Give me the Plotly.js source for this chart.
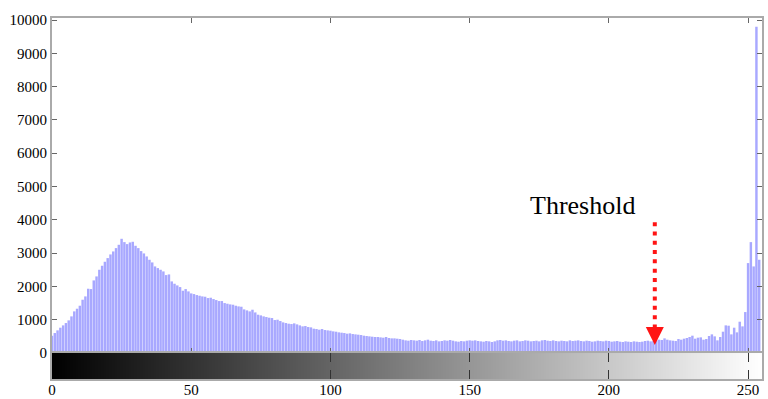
<!DOCTYPE html>
<html>
<head>
<meta charset="utf-8">
<script src="https://cdn.plot.ly/plotly-3.0.1.min.js"></script>
<style>html,body{margin:0;padding:0;background:#fff;}#chart{width:768px;height:399px;}</style>
</head>
<body>
<div id="chart"></div>
<script>
// Gray levels (categories)
const grayLevels = Array.from({length: 256}, (_, i) => i);

// Pixel counts per gray level
const counts = [
  520, 600, 680, 760, 830, 900, 980, 1100, 1250, 1330,
  1420, 1600, 1700, 1930, 1920, 2180, 2300, 2500, 2620, 2740,
  2850, 2960, 3050, 3150, 3250, 3430, 3330, 3270, 3320, 3340,
  3220, 3150, 3060, 2990, 2900, 2800, 2720, 2600, 2550, 2500,
  2450, 2340, 2360, 2150, 2080, 2030, 1980, 1870, 1920, 1850,
  1790, 1770, 1740, 1720, 1700, 1690, 1650, 1660, 1620, 1590,
  1560, 1560, 1500, 1480, 1460, 1450, 1420, 1400, 1390, 1310,
  1280, 1250, 1300, 1220, 1150, 1130, 1100, 1080, 1060, 1050,
  990, 1000, 960, 920, 900, 880, 870, 890, 860, 830,
  800, 810, 780, 770, 730, 720, 700, 720, 690, 680,
  670, 650, 640, 620, 610, 600, 580, 590, 570, 560,
  550, 540, 520, 510, 500, 490, 480, 480, 470, 460,
  480, 450, 440, 440, 430, 420, 400, 380, 370, 390,
  380, 370, 390, 360, 380, 400, 370, 360, 380, 350,
  360, 380, 370, 390, 370, 350, 340, 360, 350, 370,
  380, 370, 380, 360, 350, 340, 360, 350, 330, 350,
  380, 390, 370, 380, 360, 350, 370, 380, 350, 360,
  380, 370, 350, 360, 370, 350, 380, 390, 370, 360,
  380, 360, 350, 370, 360, 350, 380, 360, 370, 380,
  360, 350, 370, 360, 340, 350, 370, 360, 350, 370,
  360, 340, 350, 360, 340, 330, 350, 340, 330, 350,
  340, 330, 340, 360, 370, 350, 360, 380, 400, 390,
  440, 400, 380, 370, 360, 420, 400, 430, 450, 480,
  520, 430, 460, 470, 400, 420, 510, 560, 500, 380,
  480, 640, 830, 820, 560, 760, 620, 940, 800, 1230,
  2700, 3330, 2600, 9800, 2800, 0
];

const xTicks = [0, 50, 100, 150, 200, 250];
const yTicks = [0, 1000, 2000, 3000, 4000, 5000, 6000, 7000, 8000, 9000, 10000];

const thresholdLevel = 216.5;
const thresholdLabel = 'Threshold';

const serif = 'Liberation Serif, Times New Roman, serif';

const traces = [
  {
    type: 'bar', x: grayLevels, y: counts,
    xaxis: 'x', yaxis: 'y',
    marker: {color: 'rgb(168,168,255)', line: {width: 0}},
    hoverinfo: 'skip'
  },
  {
    type: 'heatmap', x: grayLevels, y: [0, 1], z: [grayLevels],
    xaxis: 'x2', yaxis: 'y2',
    colorscale: [[0, 'rgb(0,0,0)'], [1, 'rgb(255,255,255)']],
    zmin: 0, zmax: 255, showscale: false, hoverinfo: 'skip'
  }
];

const layout = {
  width: 768, height: 399,
  margin: {l: 52, r: 6, t: 18, b: 20},
  paper_bgcolor: '#fff', plot_bgcolor: '#fff',
  showlegend: false,
  bargap: 0.12,
  font: {family: serif, size: 15, color: '#000'},
  xaxis: {
    domain: [0, 1], range: [0, 255], anchor: 'y',
    tickvals: xTicks, showticklabels: false,
    ticks: 'inside', ticklen: 5, tickcolor: '#666', tickwidth: 1,
    showline: true, linecolor: '#aaa', linewidth: 2, mirror: 'ticks',
    showgrid: false, zeroline: false
  },
  yaxis: {
    domain: [0.072, 1], range: [0, 10060], anchor: 'x',
    tickvals: yTicks, ticktext: yTicks.map(String),
    ticks: 'inside', ticklen: 5, tickcolor: '#666', tickwidth: 1,
    showline: true, linecolor: '#aaa', linewidth: 2, mirror: 'ticks',
    showgrid: false, zeroline: false,
    tickfont: {family: serif, size: 15, color: '#000'}
  },
  xaxis2: {
    domain: [0, 1], range: [0, 255], anchor: 'y2',
    tickvals: xTicks, ticktext: xTicks.map(String),
    ticks: 'inside', ticklen: 9, tickcolor: '#333', tickwidth: 1,
    ticklabelstandoff: -4,
    showline: true, linecolor: '#aaa', linewidth: 2, mirror: 'ticks',
    showgrid: false, zeroline: false,
    tickfont: {family: serif, size: 15, color: '#000'}
  },
  yaxis2: {
    domain: [0, 0.072], range: [0, 1], anchor: 'x2',
    showticklabels: false, ticks: '',
    showline: true, linecolor: '#aaa', linewidth: 2, mirror: true,
    showgrid: false, zeroline: false
  },
  shapes: [
    {
      type: 'line', xref: 'x', yref: 'y',
      x0: thresholdLevel, x1: thresholdLevel, y0: 3930, y1: 620,
      line: {color: 'rgb(255,20,20)', width: 4, dash: '4px,5.3px'}
    }
  ],
  annotations: [
    {
      xref: 'x', yref: 'y', x: 190.7, y: 4440,
      text: thresholdLabel, showarrow: false,
      font: {family: serif, size: 26, color: '#000'},
      xanchor: 'center', yanchor: 'middle'
    },
    {
      xref: 'x', yref: 'y', x: thresholdLevel, y: 240,
      ax: 0, ay: -14, axref: 'pixel', ayref: 'pixel',
      text: '', showarrow: true,
      arrowhead: 2, arrowsize: 1.2, arrowwidth: 3, arrowcolor: 'rgb(255,20,20)'
    }
  ]
};

Plotly.newPlot('chart', traces, layout, {displayModeBar: false, staticPlot: true});
</script>
</body>
</html>
